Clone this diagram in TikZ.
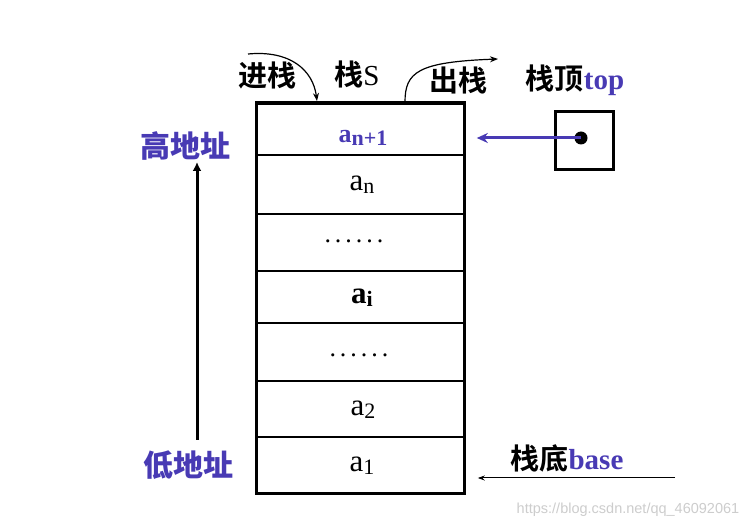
\documentclass[tikz,border=0pt]{standalone}
\usepackage{fontspec}
\setmainfont{Liberation Serif}
\newfontfamily\cjk{Noto Sans CJK SC Bold}
\newfontfamily\cjkb{Noto Sans CJK SC Black}
\newfontfamily\wmfont{Liberation Sans}
\usetikzlibrary{arrows.meta}
\definecolor{addrblue}{RGB}{72,58,180}
\definecolor{wmgray}{RGB}{205,205,205}
\tikzset{
  cell/.style={draw, line width=1.6pt, minimum width=207pt, inner sep=0pt, anchor=north},
  elem/.style={font=\fontsize{31}{34}\selectfont, inner sep=0pt},
  lab/.style={font=\fontsize{29}{32}\selectfont\cjk, inner sep=0pt},
  addr/.style={font=\fontsize{30}{32}\selectfont\cjkb, text=addrblue, inner sep=0pt},
}
\newcommand{\sub}[1]{\raisebox{-3pt}{\fontsize{22}{24}\selectfont #1}}
\begin{document}
\begin{tikzpicture}[x=1pt,y=-1pt]
\useasboundingbox[fill=white] (0,0) rectangle (756,529);
% cells
\node[cell, minimum height=51pt] (c1) at (360.5,103) {};
\node[cell, minimum height=59pt] (c2) at (360.5,154) {};
\node[cell, minimum height=57pt] (c3) at (360.5,213) {};
\node[cell, minimum height=52pt] (c4) at (360.5,270) {};
\node[cell, minimum height=58pt] (c5) at (360.5,322) {};
\node[cell, minimum height=56pt] (c6) at (360.5,380) {};
\node[cell, minimum height=56pt] (c7) at (360.5,436) {};
\draw[line width=3pt] (c1.north west) rectangle (c7.south east);
% contents
\node[elem, text=addrblue, font=\fontsize{26}{30}\selectfont\bfseries] (e1) at (363,138) {a\sub{n+1}};
\node[elem] (e2) at (362,185) {a\sub{n}};
\node[elem, font=\fontsize{26}{30}\selectfont] (e3) at (354,241) {.\kern4pt.\kern4pt.\kern4pt.\kern4pt.\kern4pt.};
\node[elem, font=\fontsize{31}{34}\selectfont\bfseries] (e4) at (362,298) {a\sub{i}};
\node[elem, font=\fontsize{26}{30}\selectfont] (e5) at (359,355) {.\kern4pt.\kern4pt.\kern4pt.\kern4pt.\kern4pt.};
\node[elem] (e6) at (363,410) {a\sub{2}};
\node[elem] (e7) at (362,466) {a\sub{1}};
% top pointer
\node[draw, line width=3pt, minimum size=58pt, inner sep=0pt] (topbox) at (584,141) {};
\fill (581,138) circle[radius=6.5pt] coordinate (dot);
\draw[addrblue, line width=3pt, -{Stealth[length=11pt,width=10pt]}, shorten >=12pt] (dot) -- (dot -| c1.east);
% labels top
\node[lab] (push) at (267,75) {进栈};
\node[lab] (stackS) at (357,74) {栈\textrm{S}};
\node[lab] (pop) at (458,80) {出栈};
\node[lab] (toplab) at (575,80) {栈顶{\rmfamily\bfseries\color{addrblue}top}};
\coordinate (pushstart) at (248,54);
\coordinate (pushend) at (317,101);
\draw[line width=1.2pt, -{Stealth[length=8pt,width=6pt]}] (pushstart) .. controls (290,50) and (313,70) .. (pushend);
\coordinate (popstart) at (405,102);
\coordinate (popend) at (498,59);
\draw[line width=1.2pt, -{Stealth[length=8pt,width=6pt]}] (popstart) .. controls (405,72) and (418,62) .. (popend);
% address
\node[addr] (high) at (185,146) {高地址};
\node[addr] (low) at (188,465) {低地址};
\draw[line width=3pt, -{Latex[length=9pt,width=9pt]}] (197,440) coordinate (lowpt) -- (197,162) coordinate (highpt);
% base
\node[lab] (baselab) at (567,458) {栈底{\rmfamily\bfseries\color{addrblue}base}};
\coordinate (basestart) at (675,478);
\draw[line width=1pt, -{Stealth[length=7pt,width=5pt]}, shorten >=13pt] (basestart) -- (basestart -| c7.east);
% watermark
\node[font=\fontsize{14.5}{16}\selectfont\wmfont, text=wmgray, inner sep=0pt] (wm) at (628,510) {https://blog.csdn.net/qq\_46092061};
\end{tikzpicture}
\end{document}
